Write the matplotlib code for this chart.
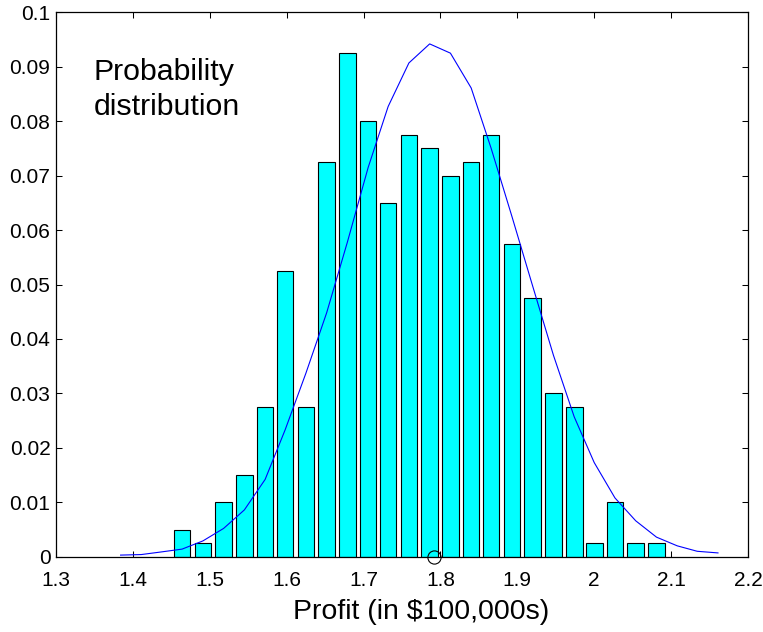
import matplotlib
matplotlib.use("Agg")
import matplotlib.pyplot as plt
from matplotlib.ticker import FixedLocator, FixedFormatter

plt.rcParams['font.family'] = ['Liberation Sans', 'DejaVu Sans']

# Bin centres of the profit histogram (in $100,000s)
bin_centers = [1.464, 1.491, 1.518, 1.545, 1.572, 1.598, 1.625, 1.652,
               1.679, 1.706, 1.732, 1.759, 1.786, 1.813, 1.840, 1.866,
               1.893, 1.920, 1.947, 1.974, 2.000, 2.027, 2.054, 2.081]

# Fraction of simulated outcomes falling in each bin
bin_probs = [0.005, 0.0025, 0.01, 0.015, 0.0275, 0.0525, 0.0275, 0.0725,
             0.0925, 0.08, 0.065, 0.0775, 0.075, 0.07, 0.0725, 0.0775,
             0.0575, 0.0475, 0.03, 0.0275, 0.0025, 0.01, 0.0025, 0.0025]

# Fitted density curve, evaluated at the bin centres plus three extra bins each side
curve_x = [1.384, 1.411, 1.438, 1.464, 1.491, 1.518, 1.545, 1.572, 1.598, 1.625,
           1.652, 1.679, 1.706, 1.732, 1.759, 1.786, 1.813, 1.840, 1.866, 1.893,
           1.920, 1.947, 1.974, 2.000, 2.027, 2.054, 2.081, 2.108, 2.134, 2.161]
curve_y = [0.0003, 0.0004, 0.0009, 0.0014, 0.0029, 0.0052, 0.0086, 0.0142,
           0.0233, 0.0337, 0.0448, 0.0578, 0.0715, 0.0827, 0.0907, 0.0942,
           0.0925, 0.0861, 0.0750, 0.0625, 0.0497, 0.0370, 0.0257, 0.0173,
           0.0108, 0.0066, 0.0036, 0.0020, 0.0010, 0.0007]

# Mean profit marker on the x axis
mean_profit = 1.791

x_ticks = [1.3, 1.4, 1.5, 1.6, 1.7, 1.8, 1.9, 2.0, 2.1, 2.2]
x_tick_labels = ['1.3', '1.4', '1.5', '1.6', '1.7', '1.8', '1.9', '2', '2.1', '2.2']
y_ticks = [0, 0.01, 0.02, 0.03, 0.04, 0.05, 0.06, 0.07, 0.08, 0.09, 0.1]
y_tick_labels = ['0', '0.01', '0.02', '0.03', '0.04', '0.05', '0.06',
                 '0.07', '0.08', '0.09', '0.1']

fig = plt.figure(figsize=(7.63, 6.32), dpi=100)
ax = fig.add_axes([0.0734, 0.1191, 0.9069, 0.8614])

bin_step = bin_centers[1] - bin_centers[0]
ax.bar(bin_centers, bin_probs, width=0.8 * bin_step, color='#00ffff',
       edgecolor='black', linewidth=0.8, zorder=2)
ax.plot(curve_x, curve_y, color='#0000ff', linewidth=0.8, zorder=3)
ax.plot([mean_profit], [0], marker='o', markersize=9.5, markerfacecolor='none',
        markeredgecolor='black', markeredgewidth=0.8, linestyle='none',
        clip_on=False, zorder=4)

ax.set_xlim(1.3, 2.2)
ax.set_ylim(0, 0.1)
ax.xaxis.set_major_locator(FixedLocator(x_ticks))
ax.xaxis.set_major_formatter(FixedFormatter(x_tick_labels))
ax.yaxis.set_major_locator(FixedLocator(y_ticks))
ax.yaxis.set_major_formatter(FixedFormatter(y_tick_labels))
ax.tick_params(direction='in', length=4, width=0.75, top=True, right=True,
               labelsize=15, colors='black')
ax.tick_params(axis='x', pad=10)
ax.tick_params(axis='y', pad=4)
for s in ax.spines.values():
    s.set_linewidth(0.9)
    s.set_zorder(5)

ax.set_xlabel('Profit (in $100,000s)', fontsize=20.5)
ax.xaxis.set_label_coords(0.527, -0.077)
ax.text(1.3486, 0.0916, 'Probability\ndistribution', fontsize=21.8,
        ha='left', va='top', linespacing=1.3)

fig.savefig('out.png', dpi=100)
